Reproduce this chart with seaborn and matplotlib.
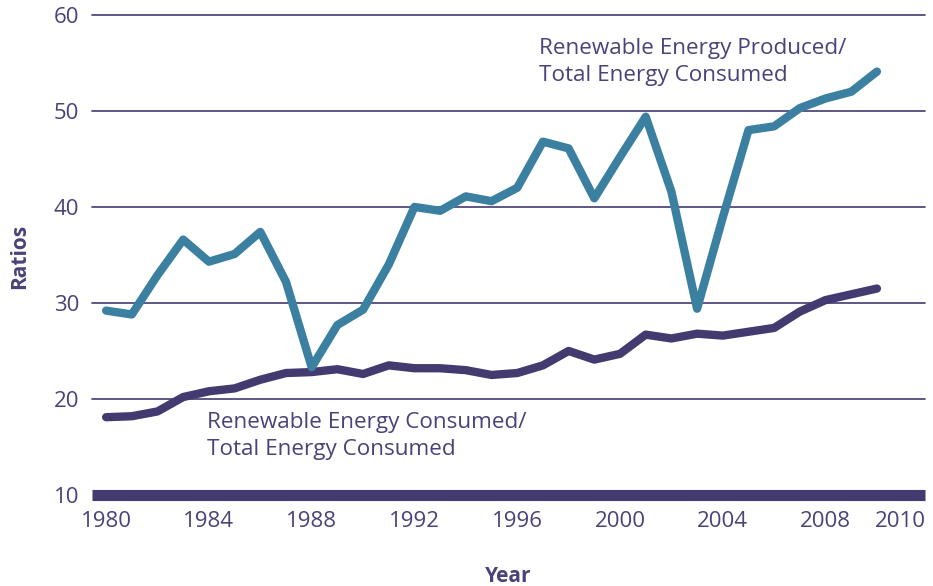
import matplotlib
matplotlib.use('Agg')

import matplotlib.pyplot as plt
import matplotlib.transforms as mtransforms
import seaborn as sns
import pandas as pd

# data
years = list(range(1980, 2011))
produced_ratio = [29.2, 28.8, 32.9, 36.6, 34.3, 35.1, 37.4, 32.2, 23.3, 27.7,
                  29.3, 34.0, 40.0, 39.6, 41.1, 40.6, 42.0, 46.8, 46.1, 40.9,
                  45.2, 49.4, 41.6, 29.4, 38.9, 48.0, 48.4, 50.3, 51.3, 52.0,
                  54.1]
consumed_ratio = [18.1, 18.2, 18.7, 20.2, 20.8, 21.1, 22.0, 22.7, 22.8, 23.1,
                  22.6, 23.5, 23.2, 23.2, 23.0, 22.5, 22.7, 23.5, 25.0, 24.1,
                  24.7, 26.7, 26.3, 26.8, 26.6, 27.0, 27.4, 29.1, 30.3, 30.9,
                  31.5]
x_ticks = [1980, 1984, 1988, 1992, 1996, 2000, 2004, 2008, 2010]
y_ticks = [10, 20, 30, 40, 50, 60]

TEAL = '#3b80a1'
PURPLE = '#433a6f'
TEXT = '#4a4278'

df = pd.DataFrame({'Year': years,
                   'Produced': produced_ratio,
                   'Consumed': consumed_ratio})

sns.set_theme(style='white')
plt.rcParams['font.family'] = ['Open Sans', 'DejaVu Sans']

fig = plt.figure(figsize=(9.33, 5.86), dpi=100)
ax = fig.add_axes([0.0986, 0.1439, 0.8928, 0.8355])

# gridlines
for yv in y_ticks[1:]:
    ax.axhline(yv, color=PURPLE, linewidth=1.2, zorder=1, clip_on=False)
# thick baseline at 10
ax.axhline(10, color=PURPLE, linewidth=8, zorder=2, clip_on=False,
           solid_capstyle='butt')

sns.lineplot(data=df, x='Year', y='Consumed', color=PURPLE, linewidth=6,
             ax=ax, zorder=3, solid_capstyle='round', solid_joinstyle='round')
sns.lineplot(data=df, x='Year', y='Produced', color=TEAL, linewidth=6,
             ax=ax, zorder=4, solid_capstyle='round', solid_joinstyle='round')

ax.set_xlim(1979.45, 2011.87)
ax.set_ylim(9.3, 60.3)
ax.set_xticks(x_ticks)
ax.set_yticks(y_ticks)
ax.tick_params(axis='both', length=0, labelsize=16, labelcolor=TEXT)
ax.tick_params(axis='x', pad=7)
ax.tick_params(axis='y', pad=9)
for s in ax.spines.values():
    s.set_visible(False)

# the last year label sits a little right of its point in the original
last = ax.get_xticklabels()[-1]
last.set_transform(last.get_transform() +
                   mtransforms.ScaledTranslation(0.23, 0, fig.dpi_scale_trans))

ax.set_xlabel('Year', fontsize=15, fontweight='bold', color=TEXT, labelpad=24)
ax.set_ylabel('Ratios', fontsize=15, fontweight='bold', color=TEXT, labelpad=17)

ax.text(1996.85, 57.6, 'Renewable Energy Produced/\nTotal Energy Consumed',
        fontsize=16.2, color=TEXT, ha='left', va='top', linespacing=1.38)
ax.text(1983.92, 18.65, 'Renewable Energy Consumed/\nTotal Energy Consumed',
        fontsize=16.2, color=TEXT, ha='left', va='top', linespacing=1.38)

fig.savefig('out.png', dpi=100)
